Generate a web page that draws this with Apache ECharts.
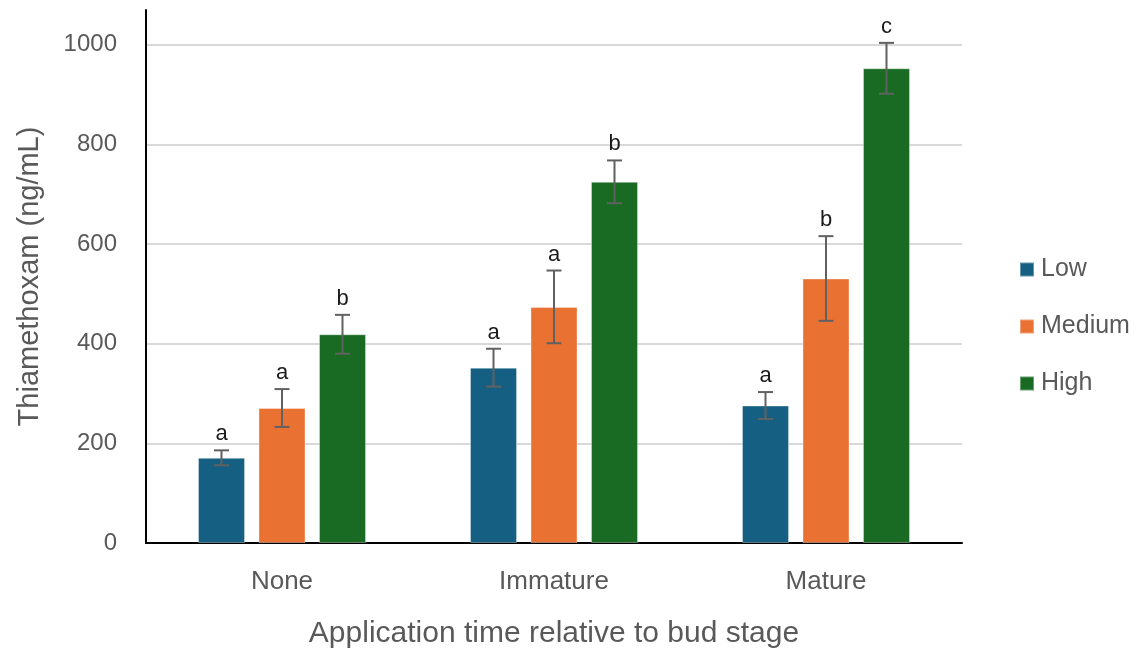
<!DOCTYPE html>
<html>
<head>
<meta charset="utf-8">
<script src="https://cdn.jsdelivr.net/npm/echarts@6/dist/echarts.min.js"></script>
<style>
html,body{margin:0;padding:0;background:#fff;}
#chart{width:1142px;height:648px;}
</style>
</head>
<body>
<div id="chart"></div>
<script>
const categories = ['None', 'Immature', 'Mature'];
const seriesNames = ['Low', 'Medium', 'High'];
const lowMean = [171, 352, 276];
const lowErr = [15, 38, 27];
const lowLetters = ['a', 'a', 'a'];
const mediumMean = [271, 474, 531];
const mediumErr = [38, 73, 85];
const mediumLetters = ['a', 'a', 'b'];
const highMean = [419, 725, 953];
const highErr = [39, 43, 51];
const highLetters = ['b', 'b', 'c'];
const yTicks = [0, 200, 400, 600, 800, 1000];

const colors = ['#156082', '#E97132', '#196B24'];
const means = [lowMean, mediumMean, highMean];
const errs = [lowErr, mediumErr, highErr];
const letters = [lowLetters, mediumLetters, highLetters];

const BAR_W = 47;
const BAR_STEP = 60.5;
const FONT = '"Liberation Sans", Arial, sans-serif';

const chart = echarts.init(document.getElementById('chart'), null, {renderer: 'canvas'});

function errorSeries(si) {
  const data = categories.map((c, i) => [i, means[si][i], errs[si][i], letters[si][i]]);
  return {
    type: 'custom',
    name: seriesNames[si] + ' error',
    z: 5,
    data: data,
    encode: {x: 0, y: 1},
    renderItem: function (params, api) {
      const ci = api.value(0);
      const m = api.value(1);
      const e = api.value(2);
      const letter = data[params.dataIndex][3];
      const c = api.coord([ci, m]);
      const x = c[0] + (si - 1) * BAR_STEP;
      const top = api.coord([ci, m + e])[1];
      const bot = api.coord([ci, m - e])[1];
      const cap = 7.5;
      const st = {stroke: '#616161', lineWidth: 2};
      return {
        type: 'group',
        children: [
          {type: 'line', shape: {x1: x, y1: top, x2: x, y2: bot}, style: st},
          {type: 'line', shape: {x1: x - cap, y1: top, x2: x + cap, y2: top}, style: st},
          {type: 'line', shape: {x1: x - cap, y1: bot, x2: x + cap, y2: bot}, style: st},
          {type: 'text', style: {x: x, y: top - 5, text: letter, fill: '#1a1a1a',
            font: '22px ' + FONT, align: 'center', verticalAlign: 'bottom'}}
        ]
      };
    },
    silent: true,
    tooltip: {show: false}
  };
}

const barSeries = seriesNames.map((n, si) => ({
  type: 'bar',
  name: n,
  data: means[si],
  barWidth: BAR_W,
  barGap: ((BAR_STEP - BAR_W) / BAR_W * 100).toFixed(1) + '%',
  itemStyle: {color: colors[si], borderColor: 'rgba(255,255,255,0.35)', borderWidth: 1},
  z: 2
}));

const option = {
  animation: false,
  backgroundColor: '#ffffff',
  color: colors,
  grid: {left: 146, right: 180, top: 10, bottom: 105, containLabel: false, outerBoundsMode: 'none'},
  legend: {
    data: seriesNames,
    orient: 'vertical',
    left: 1014,
    top: 252,
    itemWidth: 14,
    itemHeight: 14,
    itemGap: 32,
    icon: 'rect',
    textStyle: {fontSize: 25, color: '#595959', fontFamily: FONT, padding: [0, 0, 0, 2]}
  },
  xAxis: {
    type: 'category',
    data: categories,
    axisLine: {lineStyle: {color: '#000', width: 2}},
    axisTick: {show: false},
    axisLabel: {fontSize: 26, color: '#595959', fontFamily: FONT, margin: 26},
    name: 'Application time relative to bud stage',
    nameLocation: 'middle',
    nameGap: 76,
    nameTextStyle: {fontSize: 30, color: '#595959', fontFamily: FONT}
  },
  yAxis: {
    type: 'value',
    min: 0,
    max: 1070,
    interval: 200,
    axisLine: {show: true, lineStyle: {color: '#000', width: 2}},
    axisTick: {show: false},
    axisLabel: {
      fontSize: 24, color: '#595959', fontFamily: FONT, margin: 29,
      showMaxLabel: false,
      formatter: v => (yTicks.indexOf(v) >= 0 ? String(v) : '')
    },
    splitLine: {show: true, showMaxLine: false, lineStyle: {color: '#d9d9d9', width: 2}},
    name: 'Thiamethoxam (ng/mL)',
    nameLocation: 'middle',
    nameGap: 102,
    nameTextStyle: {fontSize: 29, color: '#595959', fontFamily: FONT}
  },
  series: barSeries.concat([0, 1, 2].map(errorSeries))
};
chart.setOption(option);
</script>
</body>
</html>
